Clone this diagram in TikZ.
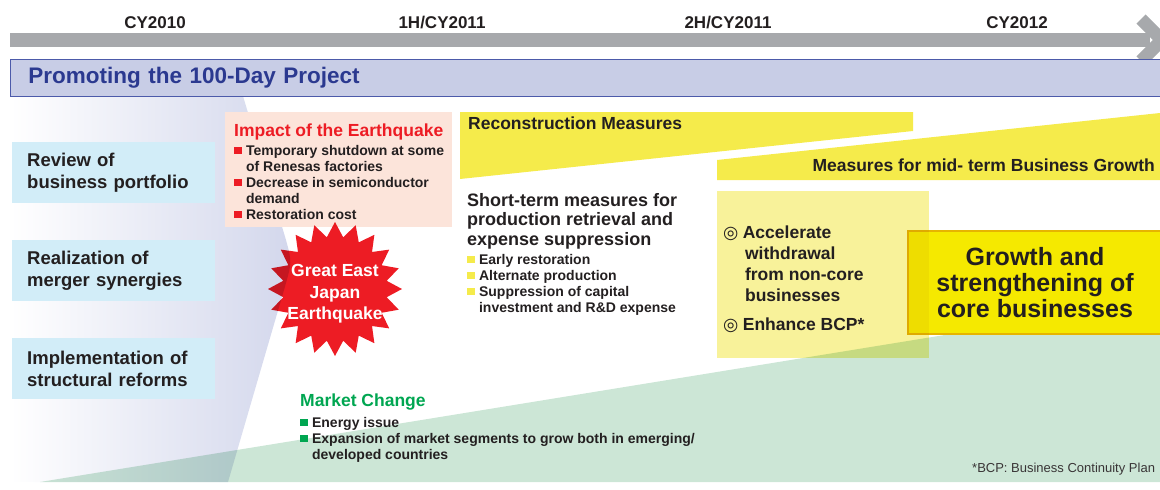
\documentclass[tikz,border=0pt]{standalone}
\usepackage{fontspec}
\setmainfont{Liberation Sans}
\newfontfamily\symfont{DejaVu Sans}
\usetikzlibrary{positioning}
\usetikzlibrary{shapes.geometric}

\definecolor{bargray}{HTML}{A7A9AC}
\definecolor{bandfill}{HTML}{C8CDE6}
\definecolor{bandline}{HTML}{4C5AAA}
\definecolor{titleblue}{HTML}{2B3990}
\definecolor{lavender}{HTML}{D3D7EC}
\definecolor{cyanbox}{HTML}{D2EDF8}
\definecolor{pinkbox}{HTML}{FCE4DA}
\definecolor{quakered}{HTML}{ED1C24}
\definecolor{bandyellow}{HTML}{F5EB4B}
\definecolor{paleyellow}{HTML}{F8F29A}
\definecolor{growthyellow}{HTML}{F5E900}
\definecolor{growthline}{HTML}{E6B400}
\definecolor{greenwedge}{HTML}{CCE6D6}
\definecolor{marketgreen}{HTML}{00A651}
\definecolor{darktext}{HTML}{231F20}

\newcommand\sqbul[1]{\textcolor{#1}{\rule[0.05em]{0.55em}{0.55em}}\hspace{0.3em}}
\newcommand\hang{\hspace*{0.85em}}
\newcommand\dcirc{{\symfont\char"25CE}\hspace{0.25em}}

\begin{document}
\begin{tikzpicture}[x=1pt,y=-1pt,
  year/.style={anchor=base, text=darktext, font=\fontsize{17}{20}\selectfont\bfseries},
  leftbox/.style={fill=cyanbox, minimum width=203pt, minimum height=61pt, text width=173pt,
    inner xsep=15pt, inner ysep=0pt, align=left, anchor=north west, text=darktext,
    font=\fontsize{18.5}{22}\selectfont\bfseries},
  heading/.style={anchor=base west, inner sep=0pt, font=\fontsize{17.5}{20}\selectfont\bfseries},
  items/.style={anchor=base west, inner sep=0pt, align=left, text=darktext,
    font=\fontsize{14}{16}\selectfont\bfseries}]

 \useasboundingbox (0,0) rectangle (1160,490);

 % background wedges
 \shade[left color=white, right color=lavender]
   (10,96) -- (243,96) -- (286,240) .. controls (292,262) .. (284,290) -- (228,482) -- (10,482) -- cycle;
 \begin{scope}[blend mode=multiply]
  \fill[greenwedge] (40,482) -- (1160,300) -- (1160,482) -- cycle;
 \end{scope}

 % time line
 \coordinate (tl start) at (10,40);
 \coordinate (tl end) at (1150,40);
 \draw[bargray, line width=14pt] (tl start) -- (tl end);
 \draw[bargray, line width=13pt, line join=miter] (1141,19) -- (1162,40) -- (1141,61);
 \foreach \x/\lab [count=\i] in {155/CY2010, 442/1H\slash CY2011, 728/2H\slash CY2011, 1017/CY2012}
   \node[year] (year\i) at (\x,28) {\lab};

 \node[fill=bandfill, draw=bandline, line width=0.8pt, anchor=north west, minimum width=1160pt,
   minimum height=37pt, text width=1124pt, inner xsep=18pt, inner ysep=0pt, align=left,
   text=titleblue, font=\fontsize{22.5}{26}\selectfont\bfseries] (project) at (10,59)
   {Promoting the 100-Day Project};

 % left column
 \node[leftbox] (portfolio) at (12,142) {Review of\\business portfolio};
 \node[leftbox] (synergies) at (12,240) {Realization of\\merger synergies};
 \node[leftbox] (reforms) at (12,338) {Implementation of\\structural reforms};

 % earthquake (base of a list = its last line)
 \node[fill=pinkbox, minimum width=227pt, minimum height=115pt, inner sep=0pt, anchor=north west]
   (impact) at (225,112) {};
 \node[heading, text=quakered] (impact title) at (234,136) {Impact of the Earthquake};
 \node[items] (impact list) at (234,219)
   {\sqbul{quakered}Temporary shutdown at some\\\hang of Renesas factories\\
    \sqbul{quakered}Decrease in semiconductor\\\hang demand\\
    \sqbul{quakered}Restoration cost};

 \begin{scope}[blend mode=multiply]
  \node[star, star points=20, star point ratio=1.28, minimum size=134pt, inner sep=0pt,
    fill=quakered] (quake) at (335,289) {};
 \end{scope}
 \node[align=center, text=white, font=\fontsize{17.5}{21.5}\selectfont\bfseries] (quake text)
   at (335,294) {Great East\\Japan\\Earthquake};

 % measures
 \fill[bandyellow] (460,112) coordinate (rec a) -- (913,112) -- (913,131) -- (460,179) -- cycle;
 \node[heading, text=darktext] (reconstruction) at (468,129) {Reconstruction Measures};
 \fill[bandyellow] (717,160) coordinate (mid a) -- (1160,113) -- (1160,180) -- (717,180) -- cycle;
 \node[heading, anchor=base east, text=darktext] (midterm) at (1155,171)
   {Measures for mid- term Business Growth};

 \node[anchor=base west, inner sep=0pt, align=left, text=darktext,
   font=\fontsize{18}{19.5}\selectfont\bfseries] (short term) at (467,245)
   {Short-term measures for\\production retrieval and\\expense suppression};
 \node[items] (short list) at (467,312)
   {\sqbul{bandyellow}Early restoration\\
    \sqbul{bandyellow}Alternate production\\
    \sqbul{bandyellow}Suppression of capital\\\hang investment and R\&D expense};

 \node[fill=growthyellow, draw=growthline, line width=2pt, anchor=north west, minimum width=254pt,
   minimum height=103pt, align=center, text=darktext,
   font=\fontsize{25}{26}\selectfont\bfseries] (growth) at (907,230)
   {Growth and\\strengthening of\\core businesses};

 \begin{scope}[blend mode=multiply]
  \node[fill=paleyellow, anchor=north west, minimum width=212pt, minimum height=167pt, inner sep=0pt]
    (bcp box) at (717,191) {};
 \end{scope}
 \node[anchor=base west, inner sep=0pt, align=left, text=darktext,
   font=\fontsize{17.5}{21}\selectfont\bfseries] (withdrawal) at (723,301)
   {\dcirc Accelerate\\\hspace*{1.25em}withdrawal\\\hspace*{1.25em}from non-core\\\hspace*{1.25em}businesses};
 \node[anchor=base west, inner sep=0pt, text=darktext,
   font=\fontsize{17.5}{21}\selectfont\bfseries] (enhance) at (723,330) {\dcirc Enhance BCP*};

 % market change
 \node[heading, text=marketgreen] (market) at (300,406) {Market Change};
 \node[items] (market list) at (300,459)
   {\sqbul{marketgreen}Energy issue\\
    \sqbul{marketgreen}Expansion of market segments to grow both in emerging/\\\hang developed countries};

 \node[anchor=base west, inner sep=0pt, text=darktext!90, font=\fontsize{13}{15}\selectfont]
   (bcp note) at (972,472) {*BCP: Business Continuity Plan};

\end{tikzpicture}
\end{document}
